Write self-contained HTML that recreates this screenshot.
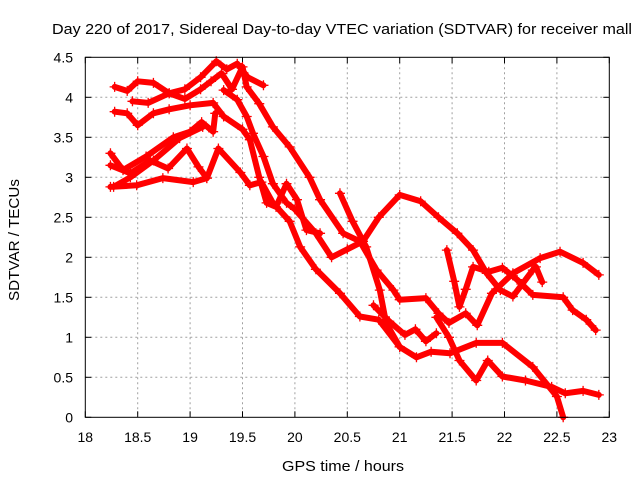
<!DOCTYPE html>
<html><head><meta charset="utf-8"><style>
body{margin:0;background:#fff}
svg{display:block;font-family:"Liberation Sans",sans-serif}
</style></head><body>
<svg id="chart" width="640" height="480" viewBox="0 0 640 480">
<rect width="640" height="480" fill="#fff"/>
<text x="52" y="34" font-size="14.5" textLength="580" lengthAdjust="spacingAndGlyphs">Day 220 of 2017, Sidereal Day-to-day VTEC variation (SDTVAR) for receiver mall</text>
<text transform="translate(19,240) rotate(-90)" font-size="14.5" text-anchor="middle" textLength="122" lengthAdjust="spacingAndGlyphs">SDTVAR / TECUs</text>
<text x="343" y="471" font-size="14.5" text-anchor="middle" textLength="122" lengthAdjust="spacingAndGlyphs">GPS time / hours</text>
<g id="grid"></g><g id="axes"></g><g id="series"></g>
<rect x="85.3" y="57.3" width="524" height="360" fill="none" stroke="#000" stroke-width="1"/>
</svg>
<script>
const xTicks=[18,18.5,19,19.5,20,20.5,21,21.5,22,22.5,23];
const xTickLabels=["18","18.5","19","19.5","20","20.5","21","21.5","22","22.5","23"];
const yTicks=[0,0.5,1,1.5,2,2.5,3,3.5,4,4.5];
const yTickLabels=["0","0.5","1","1.5","2","2.5","3","3.5","4","4.5"];
const s1=[[18.28,4.13],[18.4,4.08],[18.5,4.2],[18.65,4.18],[18.8,4.05],[18.95,4.1],[19.1,4.25],[19.25,4.45],[19.35,4.35],[19.45,4.42],[19.55,4.25],[19.7,4.15]];
const s2=[[18.45,3.95],[18.6,3.93],[18.8,4.05],[18.95,3.98],[19.1,4.1],[19.2,4.2],[19.3,4.3],[19.4,4.1],[19.5,4.38],[19.54,4.13],[19.66,3.92],[19.79,3.63],[19.95,3.38],[20.14,3.0],[20.24,2.72],[20.46,2.3],[20.62,2.2],[20.78,1.84],[20.94,1.59],[21.0,1.47],[21.25,1.49],[21.37,1.3],[21.47,1.18],[21.63,1.3],[21.74,1.15],[21.88,1.55],[22.08,1.8],[22.34,1.99],[22.53,2.07],[22.75,1.93],[22.9,1.78]];
const s3=[[18.28,3.82],[18.4,3.8],[18.5,3.65],[18.65,3.8],[18.8,3.85],[19.0,3.9],[19.22,3.93],[19.32,3.76],[19.5,3.6],[19.57,3.47],[19.66,3.0],[19.73,2.68],[19.82,2.63],[19.92,2.92],[20.02,2.72],[20.11,2.34],[20.24,2.3]];
const s4=[[19.32,4.09],[19.45,3.97],[19.54,3.76],[19.6,3.55],[19.7,3.26],[19.79,2.92],[19.92,2.68],[20.0,2.6],[20.2,2.3],[20.35,2.0],[20.5,2.1],[20.65,2.2],[20.8,2.5],[21.0,2.78],[21.2,2.7],[21.37,2.5],[21.55,2.3],[21.7,2.09],[21.83,1.8],[21.96,1.59],[22.08,1.51],[22.27,1.84],[22.3,1.88],[22.36,1.69]];
const s5=[[18.24,2.88],[18.49,2.9],[18.74,2.99],[19.03,2.94],[19.16,2.99],[19.27,3.36],[19.48,3.06],[19.57,2.9],[19.68,2.94],[19.79,2.68],[19.95,2.45],[20.05,2.13],[20.2,1.85],[20.43,1.55],[20.62,1.26],[20.8,1.22],[21.0,0.88],[21.16,0.75],[21.3,0.82],[21.48,0.8],[21.73,0.93],[21.98,0.93],[22.27,0.63],[22.5,0.26],[22.56,0.0]];
const s6=[[18.24,3.15],[18.43,3.05],[18.62,3.21],[18.79,3.11],[18.97,3.36],[19.08,3.13],[19.16,2.99]];
const s7=[[18.24,3.3],[18.36,3.09],[18.58,3.26],[18.84,3.5],[19.0,3.57],[19.11,3.69],[19.22,3.57],[19.24,3.8]];
const s8=[[18.27,2.88],[18.43,3.0],[18.65,3.21],[18.9,3.49],[19.12,3.63]];
const s9=[[20.43,2.8],[20.55,2.45],[20.68,2.13],[20.81,1.59],[20.87,1.18],[21.0,0.88]];
const s10=[[21.45,2.09],[21.52,1.7],[21.57,1.38],[21.63,1.6],[21.7,1.88],[21.85,1.82],[21.98,1.87],[22.12,1.72],[22.27,1.53],[22.56,1.5],[22.65,1.34],[22.78,1.22],[22.87,1.09]];
const s11=[[21.35,1.25],[21.47,1.0],[21.57,0.71],[21.73,0.46],[21.84,0.71],[21.98,0.51],[22.2,0.46],[22.45,0.38],[22.58,0.3],[22.75,0.33],[22.9,0.28]];
const s12=[[20.75,1.4],[20.9,1.2],[21.05,1.03],[21.15,1.1],[21.25,0.95],[21.35,1.05]];
const allSeries=[s1,s2,s3,s4,s5,s6,s7,s8,s9,s10,s11,s12];
const X0=85.3,X1=609.3,Y0=417.3,Y1=57.3;
const xs=v=>X0+(v-18)/5*(X1-X0);
const ys=v=>Y0-v/4.5*(Y0-Y1);
const NS="http://www.w3.org/2000/svg";
function mk(tag,attrs,parent){const e=document.createElementNS(NS,tag);for(const k in attrs)e.setAttribute(k,attrs[k]);parent.appendChild(e);return e;}
const grid=document.getElementById('grid'),axes=document.getElementById('axes'),ser=document.getElementById('series');
xTicks.forEach((t,i)=>{const x=xs(t);
 if(i>0&&i<xTicks.length-1){const g=mk('line',{x1:x,x2:x,y1:Y1,y2:Y0,stroke:'#a0a0a0','stroke-dasharray':'2,3'},grid);
 
 }
 mk('line',{x1:x,x2:x,y1:Y0,y2:Y0-6,stroke:'#000'},axes);
 mk('line',{x1:x,x2:x,y1:Y1,y2:Y1+6,stroke:'#000'},axes);
 const tx=mk('text',{x:x,y:442,'font-size':14,'text-anchor':'middle'},axes);tx.textContent=xTickLabels[i];
 
 
});
yTicks.forEach((t,i)=>{const y=ys(t);
 if(i>0&&i<yTicks.length-1){const g=mk('line',{x1:X0,x2:X1,y1:y,y2:y,stroke:'#a0a0a0','stroke-dasharray':'2,3'},grid);
 
 }
 mk('line',{x1:X0,x2:X0+6,y1:y,y2:y,stroke:'#000'},axes);
 mk('line',{x1:X1,x2:X1-6,y1:y,y2:y,stroke:'#000'},axes);
 const tx=mk('text',{x:73,y:y+5,'font-size':14,'text-anchor':'end'},axes);tx.textContent=yTickLabels[i];
 
 
});
allSeries.forEach((s,si)=>{
 const pl=mk('polyline',{points:s.map(p=>xs(p[0])+','+ys(p[1])).join(' '),fill:'none',stroke:'#ff0000','stroke-width':6,'stroke-linejoin':'round','stroke-linecap':'round'},ser);
 
 
 s.forEach(p=>{const x=xs(p[0]),y=ys(p[1]);
  const m=mk('path',{d:`M${x-5},${y}H${x+5}M${x},${y-5}V${y+5}`,stroke:'#ff0000','stroke-width':1.3},ser);
  
  
 });
});
</script>
</body></html>
